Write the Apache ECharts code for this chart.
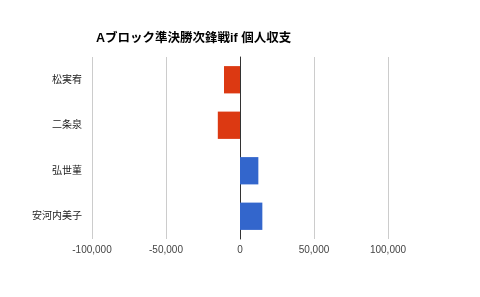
<!DOCTYPE html>
<html><head><meta charset="utf-8">
<script src="https://cdn.jsdelivr.net/npm/echarts@6/dist/echarts.min.js"></script>
<style>html,body{margin:0;padding:0;background:#fff}#c{width:480px;height:297px}</style>
</head><body><div id="c"></div>
<script>
const titleText = 'Aブロック準決勝次鋒戦if 個人収支';
const players = ['松実宥', '二条泉', '弘世菫', '安河内美子'];
const balances = [-10800, -15000, 12400, 15100];
const xTicks = [-100000, -50000, 0, 50000, 100000];

const font = 'Arial, "Liberation Sans", "Noto Sans CJK JP", sans-serif';
const chart = echarts.init(document.getElementById('c'));
chart.setOption({
  backgroundColor: '#fff',
  animation: false,
  title: {
    text: titleText, left: 91, top: 27,
    textStyle: {fontFamily: font, fontSize: 12.5, fontWeight: 'bold', color: '#000'}
  },
  grid: {left: 92, right: 92, top: 57, bottom: 58, containLabel: false},
  xAxis: {
    type: 'value', min: xTicks[0], max: xTicks[xTicks.length - 1], interval: 50000,
    axisLine: {show: false}, axisTick: {show: false},
    splitLine: {lineStyle: {color: '#cccccc', width: 1}},
    axisLabel: {
      fontFamily: font, fontSize: 10, color: '#444', margin: 6,
      formatter: v => v.toLocaleString('en-US')
    }
  },
  yAxis: {
    type: 'category', data: players, inverse: true,
    axisLine: {show: true, onZero: true, lineStyle: {color: '#333', width: 1}},
    axisTick: {show: false},
    axisLabel: {fontFamily: font, fontSize: 10, color: '#222', margin: 10}
  },
  series: [{
    type: 'bar', data: balances, barCategoryGap: '40%',
    itemStyle: {color: p => p.value < 0 ? '#dc3912' : '#3366cc'}
  }]
});
</script></body></html>
